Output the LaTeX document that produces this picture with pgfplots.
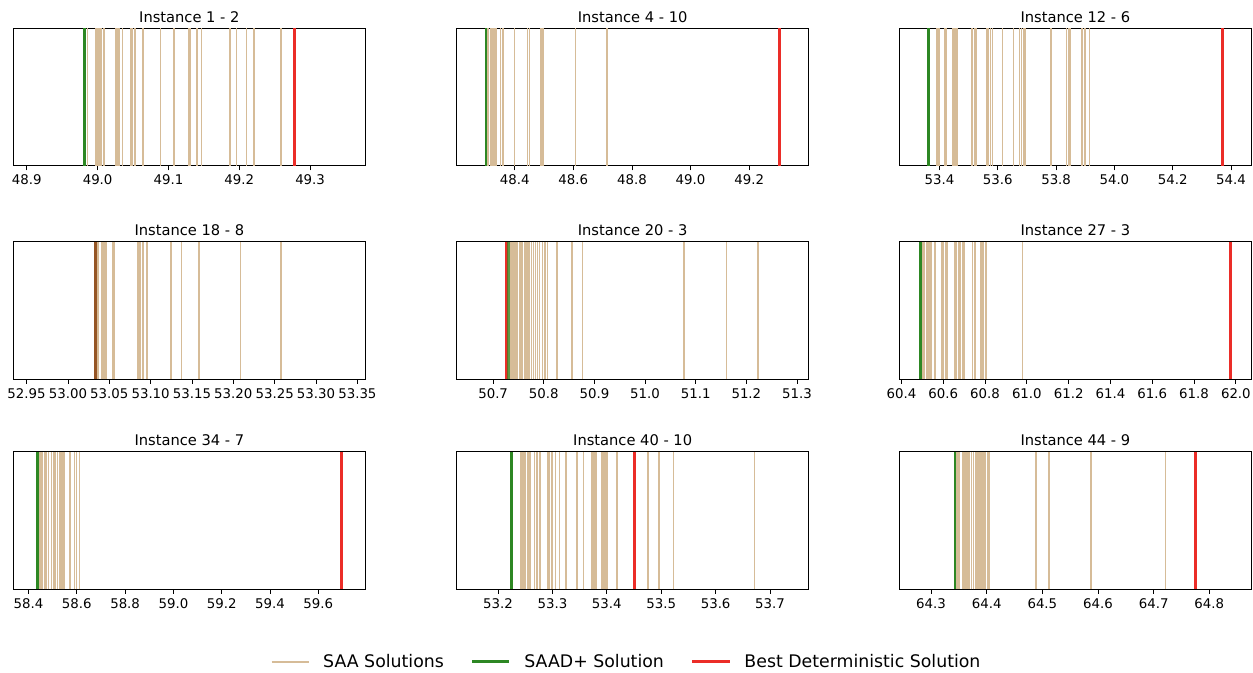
\documentclass[border=0pt]{standalone}
\usepackage{fontspec}
\setmainfont{DejaVu Sans}
\usepackage{pgfplots}
\pgfplotsset{compat=1.18}
\definecolor{saatan}{RGB}{214,188,152}
\definecolor{saadgreen}{RGB}{45,135,35}
\definecolor{detred}{RGB}{235,45,40}
\pgfplotsset{
  panel/.style={
    scale only axis, width=264pt, height=103pt,
    ymin=0, ymax=1, ytick=\empty,
    axis line style={line width=0.6pt},
    tick align=outside, xtick pos=bottom,
    major tick length=3.5pt,
    tick style={black, line width=0.6pt},
    scaled x ticks=false,
    /pgf/number format/assume math mode=true,
    xticklabel style={font=\fontsize{10}{12}\selectfont, /pgf/number format/.cd, fixed, fixed zerofill, precision=#1},
    title style={font=\fontsize{11}{13}\selectfont, at={(0.5,1)}, anchor=south, yshift=-5pt},
  },
  saa/.style={ycomb, no markers, color=saatan, line width=1.1pt},
  saad/.style={ycomb, no markers, color=saadgreen, line width=2.2pt},
  det/.style={ycomb, no markers, color=detred, line width=2.2pt},
}
\begin{document}
\begin{tikzpicture}
\useasboundingbox (0pt,0pt) rectangle (939.75pt,-504.75pt);

% ---------- Row 1 ----------
\begin{axis}[panel=1, at={(10pt,-21.2pt)}, anchor=north west,
  title={Instance 1 - 2}, xmin=48.881, xmax=49.378,
  xtick={48.9,49.0,49.1,49.2,49.3}]
\addplot[saa] coordinates {(48.986,1)(48.998,1)(48.9995,1)(49.001,1)(49.003,1)(49.005,1)(49.009,1)(49.026,1)(49.029,1)(49.031,1)(49.035,1)(49.047,1)(49.049,1)(49.053,1)(49.064,1)(49.089,1)(49.108,1)(49.129,1)(49.130,1)(49.131,1)(49.140,1)(49.147,1)(49.187,1)(49.196,1)(49.210,1)(49.221,1)(49.259,1)};
\addplot[saad] coordinates {(48.981,1)};
\addplot[det] coordinates {(49.278,1)};
\end{axis}

\begin{axis}[panel=1, at={(342.5pt,-21.2pt)}, anchor=north west,
  title={Instance 4 - 10}, xmin=48.202, xmax=49.403,
  xtick={48.4,48.6,48.8,49.0,49.2}]
\addplot[saa] coordinates {(48.3054,1)(48.311,1)(48.3168,1)(48.320,1)(48.325,1)(48.328,1)(48.3327,1)(48.3373,1)(48.351,1)(48.3577,1)(48.362,1)(48.3987,1)(48.444,1)(48.451,1)(48.4897,1)(48.4965,1)(48.608,1)(48.715,1)};
\addplot[saad] coordinates {(48.302,1)};
\addplot[det] coordinates {(49.303,1)};
\end{axis}

\begin{axis}[panel=1, at={(674.5pt,-21.2pt)}, anchor=north west,
  title={Instance 12 - 6}, xmin=53.262, xmax=54.470,
  xtick={53.4,53.6,53.8,54.0,54.2,54.4}]
\addplot[saa] coordinates {(53.390,1)(53.394,1)(53.399,1)(53.418,1)(53.424,1)(53.445,1)(53.450,1)(53.456,1)(53.461,1)(53.511,1)(53.520,1)(53.525,1)(53.561,1)(53.566,1)(53.575,1)(53.581,1)(53.616,1)(53.654,1)(53.675,1)(53.682,1)(53.689,1)(53.693,1)(53.782,1)(53.835,1)(53.842,1)(53.848,1)(53.889,1)(53.899,1)(53.915,1)};
\addplot[saad] coordinates {(53.362,1)};
\addplot[det] coordinates {(54.370,1)};
\end{axis}

% ---------- Row 2 ----------
\begin{axis}[panel=2, at={(10pt,-181.3pt)}, anchor=north west,
  title={Instance 18 - 8}, xmin=52.934, xmax=53.3596,
  xtick={52.95,53.00,53.05,53.10,53.15,53.20,53.25,53.30,53.35}]
\addplot[saa] coordinates {(53.0353,1)(53.037,1)(53.0413,1)(53.043,1)(53.0446,1)(53.0462,1)(53.0546,1)(53.0562,1)(53.0846,1)(53.0862,1)(53.0878,1)(53.091,1)(53.0958,1)(53.1247,1)(53.1375,1)(53.1583,1)(53.2088,1)(53.2577,1)};
\addplot[saad] coordinates {(53.033,1)};
\addplot[det, opacity=0.55] coordinates {(53.033,1)};
\end{axis}

\begin{axis}[panel=1, at={(342.5pt,-181.3pt)}, anchor=north west,
  title={Instance 20 - 3}, xmin=50.628, xmax=51.323,
  xtick={50.7,50.8,50.9,51.0,51.1,51.2,51.3}]
\addplot[saa] coordinates {(50.7314,1)(50.734,1)(50.7367,1)(50.7393,1)(50.742,1)(50.745,1)(50.7485,1)(50.752,1)(50.755,1)(50.7576,1)(50.763,1)(50.767,1)(50.771,1)(50.776,1)(50.780,1)(50.784,1)(50.788,1)(50.792,1)(50.797,1)(50.802,1)(50.807,1)(50.826,1)(50.856,1)(50.876,1)(51.0766,1)(51.161,1)(51.223,1)};
\addplot[det] coordinates {(50.727,1)};
\addplot[saad, opacity=0.7] coordinates {(50.731,1)};
\end{axis}

\begin{axis}[panel=1, at={(674.5pt,-181.3pt)}, anchor=north west,
  title={Instance 27 - 3}, xmin=60.390, xmax=62.074,
  xtick={60.4,60.6,60.8,61.0,61.2,61.4,61.6,61.8,62.0}]
\addplot[saa] coordinates {(60.503,1)(60.510,1)(60.519,1)(60.527,1)(60.535,1)(60.541,1)(60.559,1)(60.564,1)(60.594,1)(60.602,1)(60.611,1)(60.618,1)(60.656,1)(60.664,1)(60.675,1)(60.681,1)(60.694,1)(60.700,1)(60.739,1)(60.751,1)(60.778,1)(60.785,1)(60.793,1)(60.804,1)(60.980,1)};
\addplot[saad] coordinates {(60.490,1)};
\addplot[det] coordinates {(61.974,1)};
\end{axis}

% ---------- Row 3 ----------
\begin{axis}[panel=1, at={(10pt,-338.8pt)}, anchor=north west,
  title={Instance 34 - 7}, xmin=58.337, xmax=59.795,
  xtick={58.4,58.6,58.8,59.0,59.2,59.4,59.6}]
\addplot[saa] coordinates {(58.444,1)(58.451,1)(58.458,1)(58.465,1)(58.473,1)(58.483,1)(58.495,1)(58.503,1)(58.510,1)(58.520,1)(58.531,1)(58.538,1)(58.543,1)(58.547,1)(58.571,1)(58.591,1)(58.598,1)(58.612,1)};
\addplot[saad] coordinates {(58.437,1)};
\addplot[det] coordinates {(59.695,1)};
\end{axis}

\begin{axis}[panel=1, at={(342.5pt,-338.8pt)}, anchor=north west,
  title={Instance 40 - 10}, xmin=53.124, xmax=53.771,
  xtick={53.2,53.3,53.4,53.5,53.6,53.7},
  legend columns=3,
  legend style={draw=none, fill=none, at={(0.484,-0.53)}, anchor=center,
    font=\fontsize{13}{16}\selectfont,
    /tikz/every odd column/.append style={column sep=8pt},
    /tikz/every even column/.append style={column sep=18pt}},
  legend image code/.code={\draw[#1] (0pt,0pt) -- (28pt,0pt);}]
\addplot[saa, forget plot] coordinates {(53.2415,1)(53.244,1)(53.2476,1)(53.2506,1)(53.255,1)(53.259,1)(53.267,1)(53.272,1)(53.2774,1)(53.2915,1)(53.2945,1)(53.2988,1)(53.3055,1)(53.3128,1)(53.325,1)(53.345,1)(53.357,1)(53.372,1)(53.3744,1)(53.3768,1)(53.380,1)(53.391,1)(53.395,1)(53.3976,1)(53.400,1)(53.419,1)(53.476,1)(53.496,1)(53.5226,1)(53.671,1)};
\addplot[saad, forget plot] coordinates {(53.224,1)};
\addplot[det, forget plot] coordinates {(53.451,1)};
\addlegendimage{color=saatan, line width=1.2pt}
\addlegendentry{SAA Solutions}
\addlegendimage{color=saadgreen, line width=2.4pt}
\addlegendentry{SAAD+ Solution}
\addlegendimage{color=detred, line width=2.4pt}
\addlegendentry{Best Deterministic Solution}
\end{axis}

\begin{axis}[panel=1, at={(674.5pt,-338.8pt)}, anchor=north west,
  title={Instance 44 - 9}, xmin=64.243, xmax=64.8755,
  xtick={64.3,64.4,64.5,64.6,64.7,64.8}]
\addplot[saa] coordinates {(64.3453,1)(64.3483,1)(64.3513,1)(64.3573,1)(64.3597,1)(64.362,1)(64.3644,1)(64.3668,1)(64.369,1)(64.3728,1)(64.3764,1)(64.380,1)(64.3823,1)(64.386,1)(64.3883,1)(64.3907,1)(64.393,1)(64.3955,1)(64.398,1)(64.4026,1)(64.405,1)(64.4885,1)(64.5118,1)(64.587,1)(64.7212,1)};
\addplot[saad] coordinates {(64.343,1)};
\addplot[det] coordinates {(64.7755,1)};
\end{axis}
\end{tikzpicture}
\end{document}
